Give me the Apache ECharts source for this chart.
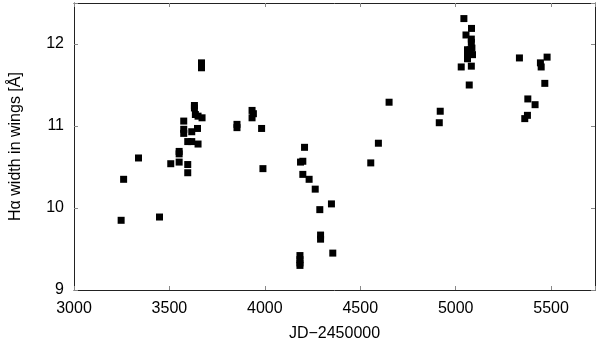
<!DOCTYPE html>
<html>
<head>
<meta charset="utf-8">
<script src="https://cdn.jsdelivr.net/npm/echarts@6/dist/echarts.min.js"></script>
<style>
  html, body { margin: 0; padding: 0; background: #fff; }
  #chart { width: 600px; height: 347px; }
</style>
</head>
<body>
<div id="chart"></div>
<script>
  // JD-2450000 of each spectrum
  var jd = [
    3247, 3260, 3338, 3448, 3507, 3551, 3551, 3551, 3596, 3596,
    3575, 3575, 3575, 3596, 3617, 3617, 3650, 3647, 3631, 3631,
    3636, 3650, 3671, 3668, 3668, 3854, 3854, 3933, 3940, 3933,
    3983, 3990, 4208, 4187, 4199, 4199, 4232, 4264, 4288, 4349,
    4292, 4292, 4184, 4184, 4184, 4184, 4356, 4555, 4595, 4651,
    4919, 4914, 5043, 5083, 5054, 5082, 5082, 5062, 5076, 5062,
    5088, 5062, 5085, 5029, 5082, 5071, 5334, 5479, 5444, 5448,
    5467, 5378, 5416, 5376, 5362
  ];
  // H-alpha width in wings [A]
  var width = [
    9.85, 10.35, 10.61, 9.89, 10.54, 10.56, 10.69, 10.66, 10.53, 10.43,
    11.06, 10.96, 10.91, 10.81, 10.81, 10.93, 10.78, 10.97, 11.25, 11.22,
    11.14, 11.12, 11.10, 11.77, 11.71, 11.02, 10.98, 11.19, 11.15, 11.10,
    10.97, 10.48, 10.74, 10.56, 10.57, 10.41, 10.35, 10.23, 9.98, 10.05,
    9.67, 9.62, 9.42, 9.37, 9.33, 9.30, 9.45, 10.55, 10.79, 11.29,
    11.18, 11.04, 12.31, 12.19, 12.11, 12.06, 12.02, 11.93, 11.93, 11.89,
    11.87, 11.82, 11.95, 11.72, 11.73, 11.50, 11.83, 11.84, 11.77, 11.72,
    11.52, 11.33, 11.26, 11.13, 11.09
  ];
  var xTicks = [3000, 3500, 4000, 4500, 5000, 5500];
  var yTicks = [9, 10, 11, 12];

  var points = jd.map(function (d, i) { return [d, width[i]]; });

  var chart = echarts.init(document.getElementById('chart'));
  var font = 'Liberation Sans, Arial, sans-serif';
  var lineColor = '#222';

  var option = {
    animation: false,
    backgroundColor: '#fff',
    grid: { left: 73, right: 5, top: 3, bottom: 51 },
    xAxis: [
      {
        type: 'value', position: 'bottom',
        min: 3000, max: 5730, interval: 500,
        name: 'JD\u22122450000', nameLocation: 'middle', nameGap: 36,
        nameTextStyle: { fontFamily: font, fontSize: 16, color: '#000' },
        axisLine: { lineStyle: { color: lineColor, width: 1 } },
        axisTick: { inside: true, length: 4, lineStyle: { color: '#888' } },
        axisLabel: {
          fontFamily: font, fontSize: 16, color: '#000', margin: 11,
          formatter: function (v) { return xTicks.indexOf(v) >= 0 ? String(v) : ''; }
        },
        splitLine: { show: false }
      },
      {
        type: 'value', position: 'top',
        min: 3000, max: 5730, interval: 500,
        axisLine: { show: true, lineStyle: { color: lineColor, width: 1 } },
        axisTick: { inside: true, length: 4, lineStyle: { color: '#888' } },
        axisLabel: { show: false },
        splitLine: { show: false }
      }
    ],
    yAxis: [
      {
        type: 'value', position: 'left',
        min: 9, max: 12.5, interval: 1,
        name: 'H\u03b1 width in wings [\u00c5]', nameLocation: 'middle', nameGap: 50,
        nameTextStyle: { fontFamily: font, fontSize: 16, color: '#000' },
        axisLine: { show: true, lineStyle: { color: lineColor, width: 1 } },
        axisTick: { show: true, inside: true, length: 4, lineStyle: { color: '#888' } },
        axisLabel: {
          fontFamily: font, fontSize: 16, color: '#000', margin: 10,
          formatter: function (v) { return yTicks.indexOf(v) >= 0 ? String(v) : ''; }
        },
        splitLine: { show: false }
      },
      {
        type: 'value', position: 'right',
        min: 9, max: 12.5, interval: 1,
        axisLine: { show: true, lineStyle: { color: lineColor, width: 1 } },
        axisTick: { show: true, inside: true, length: 4, lineStyle: { color: '#888' } },
        axisLabel: { show: false },
        splitLine: { show: false }
      }
    ],
    series: [
      {
        type: 'scatter',
        xAxisIndex: 0, yAxisIndex: 0,
        symbol: 'rect', symbolSize: 7,
        itemStyle: { color: '#000', opacity: 1 },
        data: points
      }
    ]
  };

  option && chart.setOption(option);
</script>
</body>
</html>
